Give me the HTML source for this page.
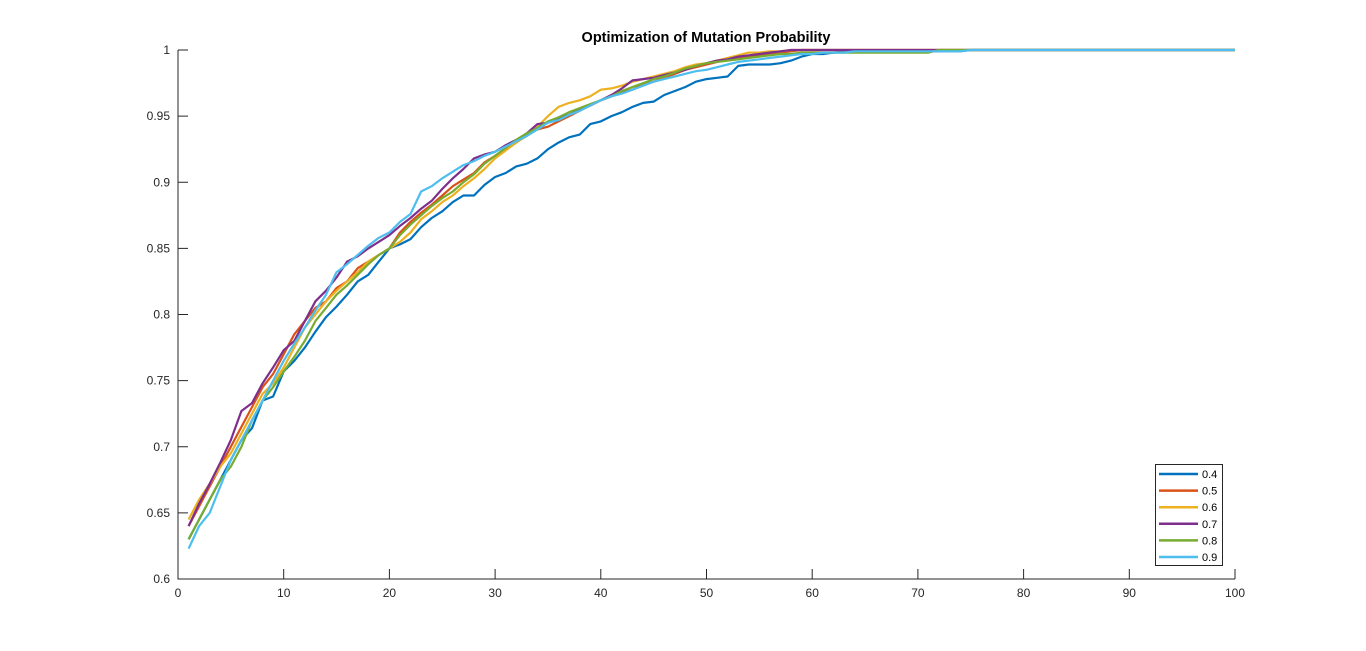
<!DOCTYPE html>
<html><head><meta charset="utf-8"><style>
html,body{margin:0;padding:0;background:#fff;width:1366px;height:651px;overflow:hidden}
svg text{font-family:"Liberation Sans",sans-serif;fill:#262626}
</style></head><body>
<svg id="chart" width="1366" height="651" xmlns="http://www.w3.org/2000/svg"></svg>
<script>
const xTicks=[0,10,20,30,40,50,60,70,80,90,100];
const yTicks=[0.6,0.65,0.7,0.75,0.8,0.85,0.9,0.95,1];
const yTickLabels=["0.6","0.65","0.7","0.75","0.8","0.85","0.9","0.95","1"];
const seriesNames=["0.4","0.5","0.6","0.7","0.8","0.9"];
const s04=[0.63,0.645,0.66,0.675,0.69,0.705,0.714,0.735,0.738,0.757,0.765,0.775,0.787,0.798,0.806,0.815,0.825,0.83,0.84,0.85,0.853,0.857,0.866,0.873,0.878,0.885,0.89,0.89,0.898,0.904,0.907,0.912,0.914,0.918,0.925,0.93,0.934,0.936,0.944,0.946,0.95,0.953,0.957,0.96,0.961,0.966,0.969,0.972,0.976,0.978,0.979,0.98,0.988,0.989,0.989,0.989,0.99,0.992,0.995,0.997,0.997,0.998,0.999,0.999,0.999,0.999,0.999,0.999,0.999,0.999,0.999,0.999,0.999,0.999,1,1,1,1,1,1,1,1,1,1,1,1,1,1,1,1,1,1,1,1,1,1,1,1,1,1];
const s05=[0.64,0.655,0.67,0.685,0.7,0.715,0.73,0.745,0.755,0.77,0.785,0.795,0.805,0.81,0.82,0.825,0.835,0.84,0.845,0.85,0.862,0.87,0.877,0.883,0.89,0.897,0.902,0.907,0.915,0.92,0.925,0.93,0.936,0.94,0.942,0.946,0.95,0.954,0.958,0.962,0.965,0.968,0.97,0.974,0.976,0.979,0.982,0.985,0.987,0.989,0.991,0.993,0.994,0.995,0.996,0.997,0.998,0.999,1,1,1,1,1,1,1,1,1,1,1,1,1,1,1,1,1,1,1,1,1,1,1,1,1,1,1,1,1,1,1,1,1,1,1,1,1,1,1,1,1,1];
const s06=[0.645,0.66,0.672,0.685,0.695,0.71,0.725,0.74,0.748,0.76,0.775,0.79,0.8,0.81,0.818,0.825,0.832,0.84,0.845,0.85,0.855,0.862,0.872,0.878,0.885,0.89,0.897,0.903,0.91,0.918,0.924,0.93,0.935,0.942,0.95,0.957,0.96,0.962,0.965,0.97,0.971,0.973,0.976,0.978,0.98,0.982,0.984,0.987,0.989,0.99,0.992,0.994,0.996,0.998,0.998,0.999,0.999,1,1,1,1,1,1,1,1,1,1,1,1,1,1,1,1,1,1,1,1,1,1,1,1,1,1,1,1,1,1,1,1,1,1,1,1,1,1,1,1,1,1,1];
const s07=[0.64,0.657,0.672,0.688,0.705,0.727,0.733,0.748,0.76,0.773,0.78,0.795,0.81,0.818,0.828,0.84,0.844,0.85,0.855,0.86,0.867,0.873,0.88,0.886,0.895,0.903,0.91,0.918,0.921,0.923,0.928,0.932,0.937,0.944,0.945,0.948,0.951,0.955,0.958,0.962,0.966,0.971,0.977,0.978,0.979,0.981,0.983,0.985,0.988,0.99,0.992,0.993,0.995,0.996,0.997,0.998,0.999,1,1,1,1,1,1,1,1,1,1,1,1,1,1,1,1,1,1,1,1,1,1,1,1,1,1,1,1,1,1,1,1,1,1,1,1,1,1,1,1,1,1,1];
const s08=[0.63,0.645,0.66,0.675,0.685,0.7,0.72,0.735,0.745,0.757,0.768,0.78,0.795,0.805,0.815,0.822,0.83,0.838,0.845,0.85,0.86,0.868,0.875,0.882,0.888,0.893,0.9,0.906,0.914,0.92,0.926,0.932,0.937,0.941,0.946,0.949,0.953,0.956,0.959,0.962,0.965,0.969,0.972,0.975,0.978,0.98,0.983,0.986,0.988,0.99,0.991,0.992,0.993,0.994,0.995,0.996,0.997,0.997,0.998,0.998,0.998,0.998,0.998,0.998,0.998,0.998,0.998,0.998,0.998,0.998,0.998,1,1,1,1,1,1,1,1,1,1,1,1,1,1,1,1,1,1,1,1,1,1,1,1,1,1,1,1,1];
const s09=[0.623,0.64,0.65,0.67,0.69,0.705,0.72,0.735,0.75,0.765,0.778,0.79,0.803,0.815,0.832,0.838,0.845,0.852,0.858,0.862,0.87,0.876,0.893,0.897,0.903,0.908,0.913,0.916,0.92,0.923,0.927,0.931,0.935,0.94,0.945,0.947,0.951,0.954,0.958,0.962,0.965,0.967,0.97,0.973,0.976,0.978,0.98,0.982,0.984,0.985,0.987,0.989,0.991,0.992,0.993,0.994,0.995,0.996,0.997,0.997,0.998,0.998,0.998,0.999,0.999,0.999,0.999,0.999,0.999,0.999,0.999,0.999,0.999,0.999,1,1,1,1,1,1,1,1,1,1,1,1,1,1,1,1,1,1,1,1,1,1,1,1,1,1];
const seriesValues=[s04,s05,s06,s07,s08,s09];
const colors=["#0072BD","#D95319","#EDB120","#7E2F8E","#77AC30","#4DBEEE"];

const L=178,R=1235,T=50,B=579;
const xS=v=>L+(v-0)/(100-0)*(R-L);
const yS=v=>B-(v-0.6)/(1-0.6)*(B-T);
const svg=document.getElementById('chart');
const NS="http://www.w3.org/2000/svg";
function mk(tag,attrs,parent){const e=document.createElementNS(NS,tag);for(const k in attrs)e.setAttribute(k,attrs[k]);(parent||svg).appendChild(e);return e;}

let t=mk('text',{x:706,y:42,'text-anchor':'middle','font-size':14.5,'font-weight':'bold'});


t.style.fill='#000';t.textContent='Optimization of Mutation Probability';

seriesValues.forEach((arr,si)=>{
  const pts=arr.map((v,i)=>xS(i+1).toFixed(1)+','+yS(v).toFixed(1)).join(' ');
  const p=mk('polyline',{points:pts,fill:'none',stroke:colors[si],'stroke-width':2.2,'stroke-linejoin':'round'});
  
  
});

const ax=mk('path',{d:`M${L},${T} L${L},${B} L${R},${B}`,fill:'none',stroke:'#262626','stroke-width':1});


xTicks.forEach(v=>{
  const x=xS(v);
  const tk=mk('line',{x1:x,y1:B,x2:x,y2:B-10,stroke:'#262626','stroke-width':1});
  
  
  const lb=mk('text',{x:x,y:B+18,'text-anchor':'middle','font-size':12});
  
  
  lb.textContent=v;
});
yTicks.forEach((v,i)=>{
  const y=yS(v);
  const tk=mk('line',{x1:L,y1:y,x2:L+10,y2:y,stroke:'#262626','stroke-width':1});
  
  
  const lb=mk('text',{x:L-8,y:y+4,'text-anchor':'end','font-size':12});
  
  
  lb.textContent=yTickLabels[i];
});

const lg=mk('g',{});


mk('rect',{x:1155.5,y:464.5,width:67,height:101,fill:'#fff',stroke:'#262626','stroke-width':1},lg);
seriesNames.forEach((n,i)=>{
  const y=474+i*16.6;
  const g=mk('g',{},lg);
  
  
  mk('line',{x1:1159,y1:y,x2:1198,y2:y,stroke:colors[i],'stroke-width':2.5},g);
  const tx=mk('text',{x:1202,y:y+4,'font-size':11},g);
  tx.style.fill='#000';tx.textContent=n;
});
</script>
</body></html>
